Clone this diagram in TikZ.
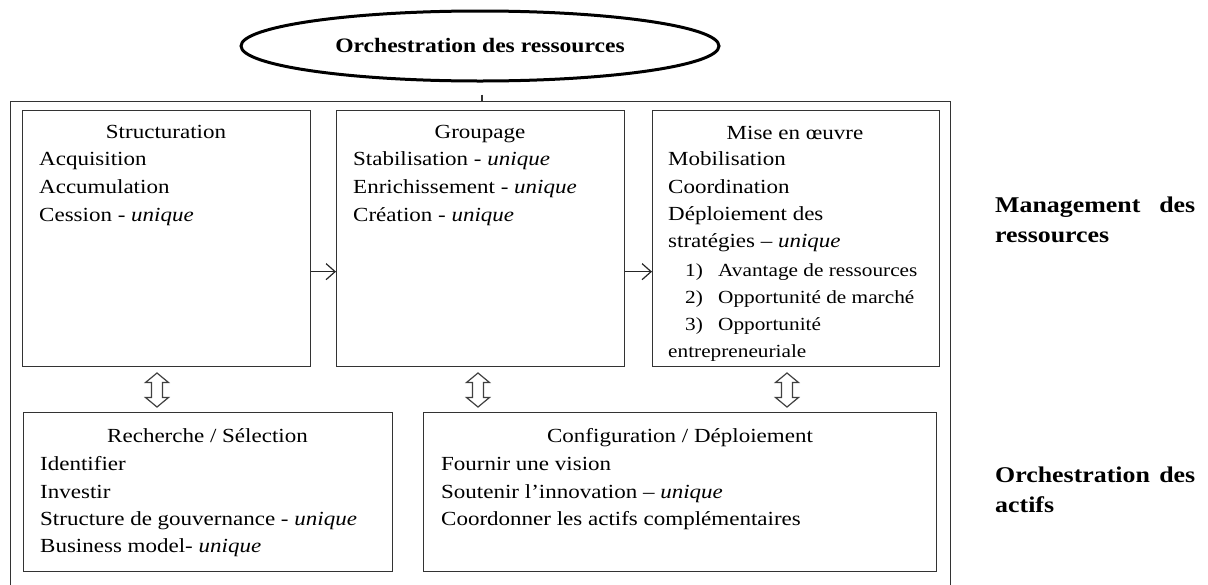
\documentclass[tikz,border=0pt]{standalone}
\usepackage{fontspec}
\setmainfont{Liberation Serif}[FakeStretch=1.15]
\usetikzlibrary{shapes.geometric,arrows.meta}

\begin{document}
\begin{tikzpicture}[x=1pt,y=-1pt,
 box/.style={draw=black!80, line width=1.3pt, rectangle, anchor=north west, inner sep=0},
 txt/.style={anchor=base west, inner sep=0, font=\fontsize{20pt}{24pt}\selectfont},
 ctxt/.style={anchor=base, inner sep=0, font=\fontsize{20pt}{24pt}\selectfont},
 ltxt/.style={anchor=base west, inner sep=0, font=\fontsize{18.5pt}{22pt}\selectfont},
 lab/.style={anchor=base west, inner sep=0, font=\fontsize{22.5pt}{27pt}\selectfont\bfseries},
 arr/.style={draw=black!85, line width=1.2pt, -{Straight Barb[length=9pt,width=16pt,line width=1.2pt]}},
 dbl/.style={draw=black!75, line width=1.2pt, line join=miter},
]
\useasboundingbox (0,0) rectangle (1208,584);

% title
\node[ellipse, draw=black, line width=3pt, minimum width=478pt, minimum height=70pt, inner sep=0,
      font=\fontsize{20.5pt}{24pt}\selectfont\bfseries] (title) at (480,46) {Orchestration des ressources};

% frame and boxes
\node[box, minimum width=940.5pt, minimum height=490pt] (outer) at (9.5,101) {};
\draw[draw=black!80, line width=1.2pt] ([xshift=2pt,yshift=-12pt]title.south) -- ([xshift=2pt]title.south |- outer.north);

\node[box, minimum width=288pt, minimum height=256pt] (b1) at (22,110) {};
\node[box, minimum width=288pt, minimum height=256pt] (b2) at (336,110) {};
\node[box, minimum width=287pt, minimum height=256pt] (b3) at (652,110) {};
\node[box, minimum width=369pt, minimum height=159pt] (c1) at (23,412) {};
\node[box, minimum width=513pt, minimum height=159pt] (c2) at (423,412) {};

% arrows
\draw[arr] ([yshift=-33pt]b1.east) -- ([yshift=-33pt]b2.west);
\draw[arr] ([yshift=-33pt]b2.east) -- ([yshift=-33pt]b3.west);

% double arrows
\coordinate (d1) at (157,390);
\coordinate (d2) at (478,390);
\coordinate (d3) at (787,390);
\foreach \d in {d1,d2,d3}{
  \draw[dbl, shift={(\d)}] (0,-17) -- (11.5,-7.5) -- (5.5,-7.5) -- (5.5,7.5) -- (11.5,7.5) -- (0,17)
     -- (-11.5,7.5) -- (-5.5,7.5) -- (-5.5,-7.5) -- (-11.5,-7.5) -- cycle;
}

% box 1 text
\node[ctxt] (t11) at (166,138) {Structuration};
\node[txt] (t12) at (39,165) {Acquisition};
\node[txt] (t13) at (39,193) {Accumulation};
\node[txt] (t14) at (39,221) {Cession - \textit{unique}};

% box 2 text
\node[ctxt] (t21) at (480,138) {Groupage};
\node[txt] (t22) at (353,165) {Stabilisation - \textit{unique}};
\node[txt] (t23) at (353,193) {Enrichissement - \textit{unique}};
\node[txt] (t24) at (353,221) {Création - \textit{unique}};

% box 3 text
\node[ctxt] (t31) at (795,139) {Mise en œuvre};
\node[txt] (t32) at (668,165) {Mobilisation};
\node[txt] (t33) at (668,193) {Coordination};
\node[txt] (t34) at (668,220) {Déploiement des};
\node[txt] (t35) at (668,247) {stratégies – \textit{unique}};
\node[ltxt] (n1) at (685,276) {1)};
\node[ltxt] (l1) at (718,276) {Avantage de ressources};
\node[ltxt] (n2) at (685,303) {2)};
\node[ltxt] (l2) at (718,303) {Opportunité de marché};
\node[ltxt] (n3) at (685,330) {3)};
\node[ltxt] (l3) at (718,330) {Opportunité};
\node[ltxt] (l4) at (668,357) {entrepreneuriale};

% bottom box 1 text
\node[ctxt] (u11) at (207.5,442) {Recherche / Sélection};
\node[txt] (u12) at (40,470) {Identifier};
\node[txt] (u13) at (40,498) {Investir};
\node[txt] (u14) at (40,525) {Structure de gouvernance - \textit{unique}};
\node[txt] (u15) at (40,552) {Business model- \textit{unique}};

% bottom box 2 text
\node[ctxt] (u21) at (680,442) {Configuration / Déploiement};
\node[txt] (u22) at (441,470) {Fournir une vision};
\node[txt] (u23) at (441,498) {Soutenir l’innovation – \textit{unique}};
\node[txt] (u24) at (441,525) {Coordonner les actifs complémentaires};

% side labels
\node[lab] (m1) at (995,212) {\makebox[200pt][s]{Management des}};
\node[lab] (m2) at (995,242) {ressources};
\node[lab] (o1) at (995,482) {\makebox[200pt][s]{Orchestration des}};
\node[lab] (o2) at (995,512) {actifs};
\end{tikzpicture}
\end{document}
